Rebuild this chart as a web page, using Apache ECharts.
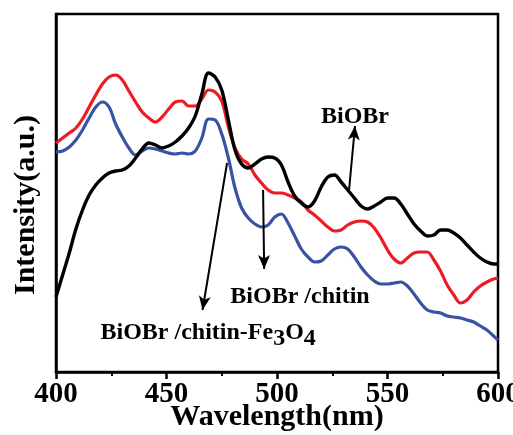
<!DOCTYPE html>
<html>
<head>
<meta charset="utf-8">
<script src="https://cdn.jsdelivr.net/npm/echarts@6/dist/echarts.min.js"></script>
<style>html,body{margin:0;padding:0;background:#fff}#c{width:513px;height:435px}</style>
</head>
<body>
<div id="c"></div>
<script>
// Wavelength (nm), read points every 3 nm
var wavelength = [400,403,406,409,412,415,418,421,424,427,
  430,433,436,439,442,445,448,451,454,457,
  460,463,466,469,472,475,478,481,484,487,
  490,493,496,499,502,505,508,511,514,517,
  520,523,526,529,532,535,538,541,544,547,
  550,553,556,559,562,565,568,571,574,577,
  580,583,586,589,592,595,598,600];

// Intensity (a.u.)
var biobr = [75,97,119,143,162,177,187,194,199,201,
  202,206,214,223,229,227,224,226,230,236,
  244,256,278,299,295,282,252,222,208,204,
  208,213,215,214,207,190,176,169,165,171,
  185,195,197,190,182,174,166,163,166,170,
  174,174,168,158,148,141,136,137,142,142,
  139,134,127,120,114,110,108,108];

var biobrChitin = [229,234,239,244,253,265,277,288,295,297,
  292,281,270,260,254,250,255,263,270,271,
  266,266,273,282,280,271,245,224,213,208,
  197,189,182,179,179,177,174,170,162,157,
  151,145,141,142,147,150,151,150,144,134,
  122,113,109,114,119,120,120,112,101,87,
  77,69,72,80,86,90,93,94];

var biobrChitinFe = [220,221,225,232,242,254,265,270,265,248,
  235,224,217,221,224,223,221,219,218,219,
  218,221,234,253,252,238,214,184,164,154,
  148,145,147,155,158,149,136,123,115,110,
  111,117,123,125,123,115,105,97,91,88,
  88,89,90,86,78,69,62,60,59,56,
  55,54,52,50,46,42,36,32];

var xTicks = [400,450,500,550,600];
var seriesNames = ['BiOBr','BiOBr /chitin','BiOBr /chitin-Fe3O4'];

function pairs(xs, ys){ return xs.map(function(x,i){ return [x, ys[i]]; }); }

var FONT = '"Liberation Serif","Times New Roman",serif';
var chart = echarts.init(document.getElementById('c'), null, {renderer:'canvas'});

var arrowStyle = {color:'#000', width:2, type:'solid'};
function arrow(a, b){ return [{coord:a},{coord:b}]; }

var labelText = {fontFamily:FONT, fontWeight:'bold', fontSize:24, color:'#000'};

chart.setOption({
  animation:false,
  backgroundColor:'#fff',
  grid:{left:56, right:15, top:14, bottom:63, containLabel:false, outerBoundsMode:'none',
    show:true, borderColor:'#000', borderWidth:2.5, backgroundColor:'transparent'},
  xAxis:{
    type:'value', min:400, max:600, interval:50,
    axisLine:{show:true, lineStyle:{color:'#000', width:2.5}},
    axisTick:{show:true, inside:false, length:7, lineStyle:{color:'#000', width:2.5}},
    minorTick:{show:true, splitNumber:2, length:4, lineStyle:{color:'#000', width:2}},
    splitLine:{show:false},
    axisLabel:{margin:8, fontFamily:FONT, fontWeight:'bold', fontSize:29, color:'#000',
      formatter:function(v){ return xTicks.indexOf(v) >= 0 ? String(v) : ''; }},
    name:'Wavelength(nm)', nameLocation:'middle', nameGap:30, nameMoveOverlap:false,
    nameTextStyle:{fontFamily:FONT, fontWeight:'bold', fontSize:30, color:'#000'}
  },
  yAxis:{
    type:'value', min:0, max:358,
    axisLine:{show:true, lineStyle:{color:'#000', width:2.5}},
    axisTick:{show:false}, axisLabel:{show:false}, splitLine:{show:false},
    name:'Intensity(a.u.)', nameLocation:'middle', nameGap:15, nameRotate:90, nameMoveOverlap:false,
    nameTextStyle:{fontFamily:FONT, fontWeight:'bold', fontSize:30, color:'#000', padding:[0,24,0,0]}
  },
  series:[
    {
      name:seriesNames[1], type:'line', data:pairs(wavelength, biobrChitin), smooth:0.35, symbol:'none',
      lineStyle:{color:'#ED1C24', width:3.2}, z:2
    },
    {
      name:seriesNames[2], type:'line', data:pairs(wavelength, biobrChitinFe), smooth:0.35, symbol:'none',
      lineStyle:{color:'#3953A4', width:3.2}, z:2
    },
    {
      name:seriesNames[0], type:'line', data:pairs(wavelength, biobr), smooth:0.35, symbol:'none',
      lineStyle:{color:'#000', width:3.4}, z:3,
      markLine:{
        silent:true, symbol:['none','arrow'], symbolSize:[9,14], lineStyle:arrowStyle, label:{show:false},
        data:[
          arrow([532.6,182],[535.3,246]),
          arrow([493.7,182],[494.2,103]),
          arrow([477.4,209],[466.3,62])
        ]
      },
      markPoint:{
        silent:true, symbol:'rect', symbolSize:1, itemStyle:{color:'rgba(0,0,0,0)'},
        data:[
          {coord:[535.3,255], label:Object.assign({show:true, position:'inside', formatter:'BiOBr'}, labelText)},
          {coord:[510.4,75], label:Object.assign({show:true, position:'inside', formatter:'BiOBr /chitin'}, labelText)},
          {coord:[419.9,39], label:Object.assign({show:true, position:'right', distance:0,
            formatter:'BiOBr /chitin-Fe{s|3}O{s|4}',
            rich:{s:{fontFamily:FONT, fontWeight:'bold', fontSize:24, color:'#000', padding:[12,0,0,0]}}}, labelText)}
        ]
      }
    }
  ]
});
</script>
</body>
</html>
